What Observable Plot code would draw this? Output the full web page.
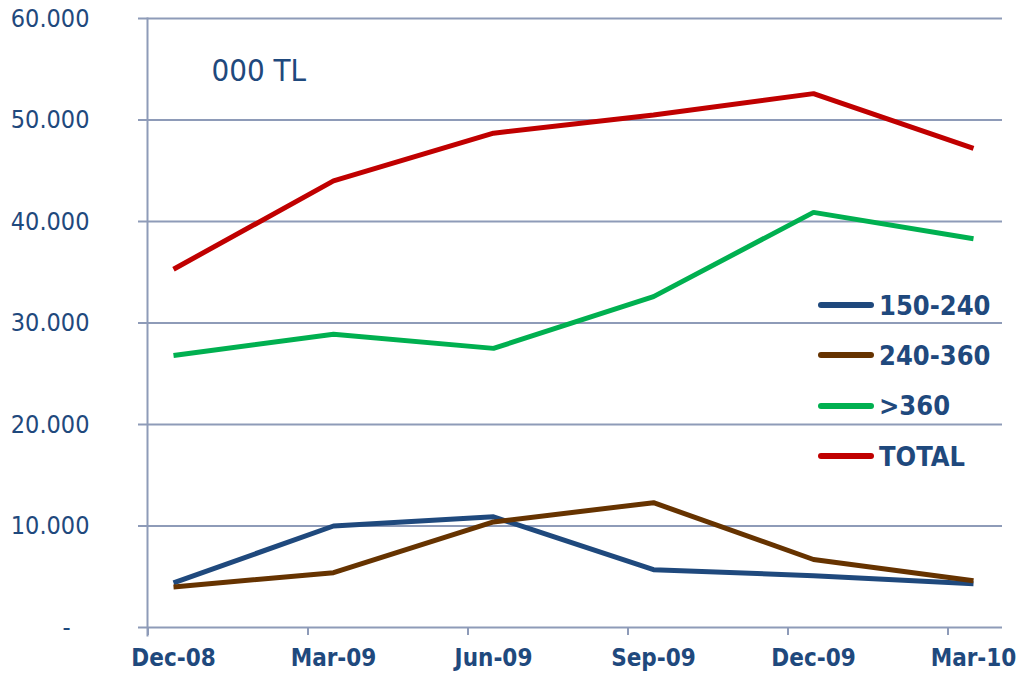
<!DOCTYPE html>
<html>
<head>
<meta charset="utf-8">
<script src="https://cdn.jsdelivr.net/npm/d3@7"></script>
<script src="https://cdn.jsdelivr.net/npm/@observablehq/plot@0.6"></script>
<style>
  html, body { margin: 0; padding: 0; background: #fff; }
  #wrap { position: relative; width: 1019px; height: 674px; }
  #legend { position: absolute; left: 818px; top: 280px; font-family: "DejaVu Sans Condensed", "DejaVu Sans", sans-serif; font-weight: bold; font-size: 27px; color: #1F497D; }
  #legend .row { display: flex; align-items: center; height: 50.3px; }
  #legend .sw { width: 56px; height: 6px; border-radius: 3px; margin-right: 5px; }
</style>
</head>
<body>
<div id="wrap"><div id="chart"></div><div id="legend"></div></div>
<script>
const periods = ["Dec-08", "Mar-09", "Jun-09", "Sep-09", "Dec-09", "Mar-10"];
const seriesNames = ["150-240", "240-360", ">360", "TOTAL"];
const s150_240 = [4400, 10000, 10900, 5700, 5100, 4300];
const s240_360 = [4000, 5400, 10400, 12300, 6700, 4600];
const sOver360 = [26800, 28900, 27500, 32600, 40900, 38300];
const sTotal = [35300, 44000, 48700, 50500, 52600, 47200];
const yTicks = [0, 10000, 20000, 30000, 40000, 50000, 60000];
const seriesColors = ["#1F497D", "#663300", "#00B050", "#C00000"];
const unitLabel = "000 TL";

const seriesValues = [s150_240, s240_360, sOver360, sTotal];
const rows = [];
seriesNames.forEach((name, i) => {
  periods.forEach((p, j) => rows.push({series: name, period: p, value: seriesValues[i][j]}));
});

const textColor = "#1F497D";
const gridColor = "#8E9BB8";
const fmt = d => d === 0 ? "-\u2007\u2009" : d3.format(",")(d).replace(/,/g, ".");

const chart = Plot.plot({
  width: 1019,
  height: 674,
  marginLeft: 147,
  marginRight: 17,
  marginTop: 18,
  marginBottom: 47,
  style: {fontFamily: "'DejaVu Sans Condensed', 'DejaVu Sans', sans-serif", background: "#fff"},
  x: {type: "point", domain: periods, padding: 0.162, align: 0.48},
  y: {domain: [0, 60000]},
  color: {domain: seriesNames, range: seriesColors},
  marks: [
    Plot.gridY(yTicks, {stroke: gridColor, strokeOpacity: 1, strokeWidth: 2, insetLeft: -9}),
    Plot.frame({anchor: "left", stroke: gridColor, strokeWidth: 2, insetBottom: -8}),
    Plot.axisY(yTicks, {tickSize: 0, tickPadding: 58, tickFormat: fmt, fill: textColor, fontSize: 25, label: null}),
    Plot.axisX({tickSize: 8, text: null, dx: -25.5, stroke: gridColor, strokeWidth: 2, label: null}),
    Plot.axisX({tickSize: 0, tickPadding: 21, fill: textColor, fontSize: 24, fontWeight: "bold", label: null}),
    Plot.text([unitLabel], {frameAnchor: "top-left", dx: 64, dy: 40, fill: textColor, fontSize: 31, textAnchor: "start"}),
    Plot.line(rows, {x: "period", y: "value", z: "series", stroke: "series", strokeWidth: 5, strokeLinejoin: "miter", strokeLinecap: "butt"})
  ]
});
document.getElementById("chart").appendChild(chart);

const legend = document.getElementById("legend");
seriesNames.forEach((name, i) => {
  const row = document.createElement("div");
  row.className = "row";
  const sw = document.createElement("div");
  sw.className = "sw";
  sw.style.background = seriesColors[i];
  const t = document.createElement("span");
  t.textContent = name;
  row.appendChild(sw); row.appendChild(t);
  legend.appendChild(row);
});
</script>
</body>
</html>
